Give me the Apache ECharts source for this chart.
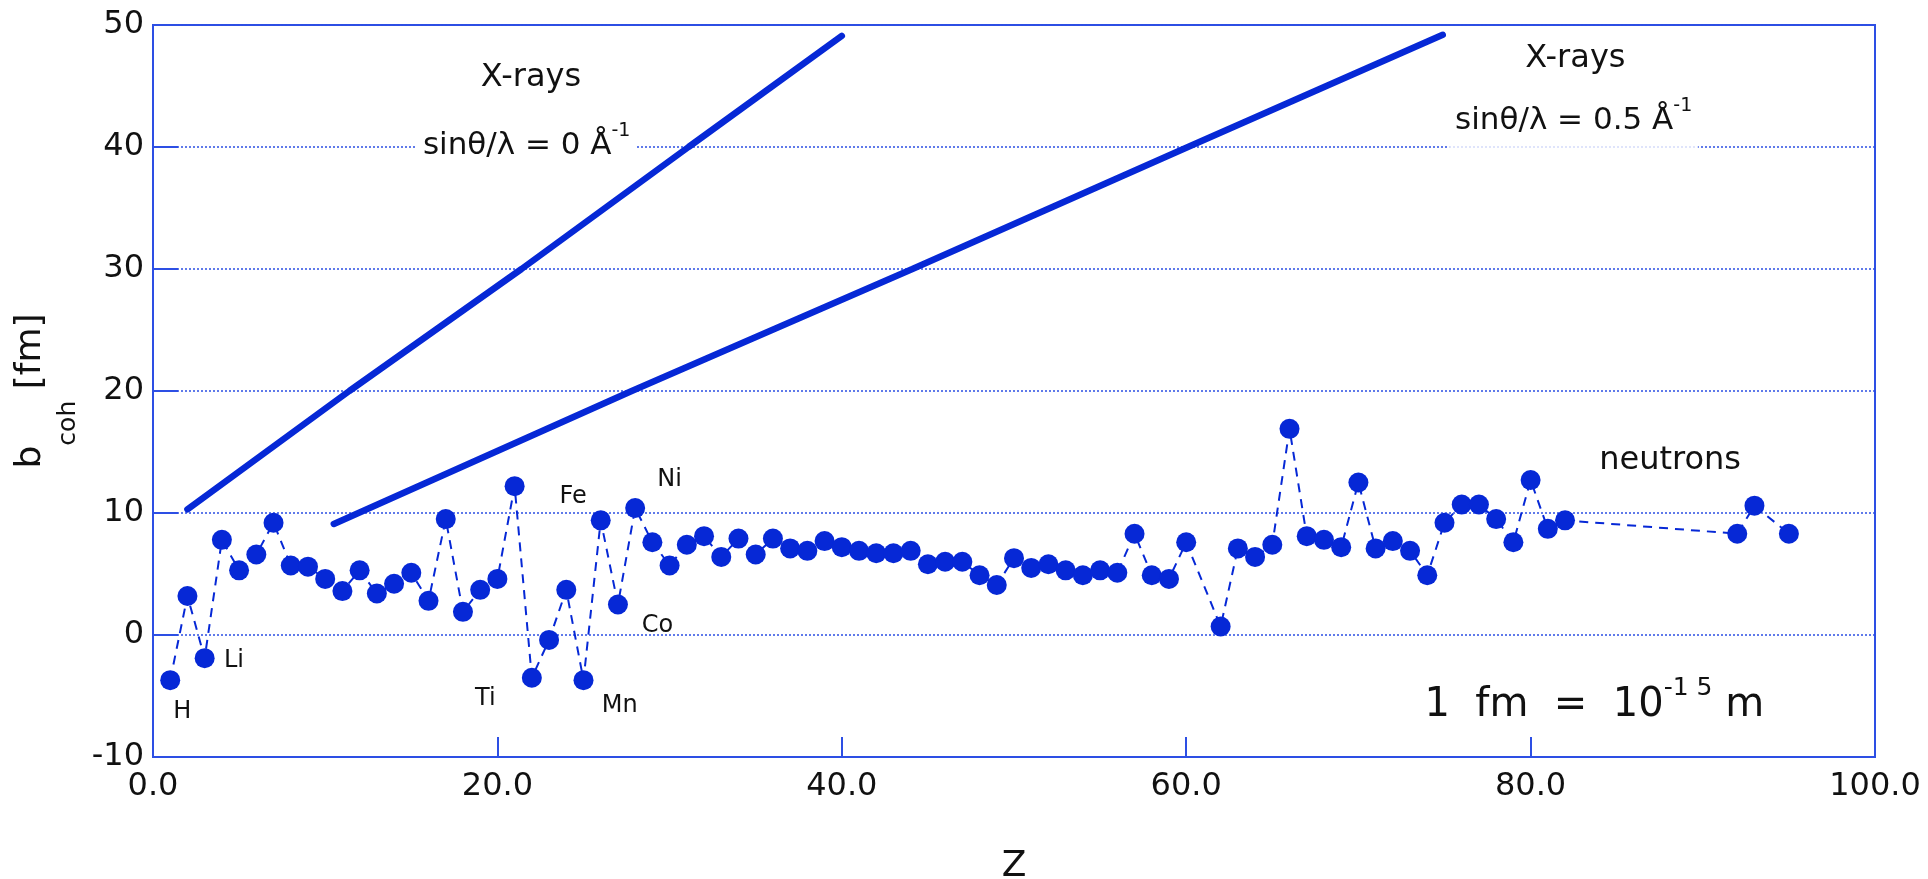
<!DOCTYPE html>
<html>
<head>
<meta charset="utf-8">
<script src="https://cdn.jsdelivr.net/npm/echarts@6/dist/echarts.min.js"></script>
<style>
  html, body { margin: 0; padding: 0; background: #fff; }
  #chart { width: 1928px; height: 879px; }
</style>
</head>
<body>
<div id="chart"></div>
<script>
// neutron coherent scattering lengths (Z 61, 83-91, 94 are not plotted)
const zValues = [
  1, 2, 3, 4, 5, 6, 7, 8, 9, 10,
  11, 12, 13, 14, 15, 16, 17, 18, 19, 20,
  21, 22, 23, 24, 25, 26, 27, 28, 29, 30,
  31, 32, 33, 34, 35, 36, 37, 38, 39, 40,
  41, 42, 43, 44, 45, 46, 47, 48, 49, 50,
  51, 52, 53, 54, 55, 56, 57, 58, 59, 60,
  62, 63, 64, 65, 66, 67, 68, 69, 70,
  71, 72, 73, 74, 75, 76, 77, 78, 79, 80,
  81, 82, 92, 93, 95
];
const bValues = [
  -3.7, 3.2, -1.9, 7.8, 5.3, 6.6, 9.2, 5.7, 5.6, 4.6,
  3.6, 5.3, 3.4, 4.2, 5.1, 2.8, 9.5, 1.9, 3.7, 4.6,
  12.2, -3.5, -0.4, 3.7, -3.7, 9.4, 2.5, 10.4, 7.6, 5.7,
  7.4, 8.1, 6.4, 7.9, 6.6, 7.9, 7.1, 6.9, 7.7, 7.2,
  6.9, 6.7, 6.7, 6.9, 5.8, 6.0, 6.0, 4.9, 4.1, 6.3,
  5.5, 5.8, 5.3, 4.9, 5.3, 5.1, 8.3, 4.9, 4.6, 7.6,
  0.7, 7.1, 6.4, 7.4, 16.9, 8.1, 7.8, 7.2, 12.5,
  7.1, 7.7, 6.9, 4.9, 9.2, 10.7, 10.7, 9.5, 7.6, 12.7,
  8.7, 9.4, 8.3, 10.6, 8.3
];

// X-ray form factors (in fm) for the two sinθ/λ values
const xray0Z = [2, 11.4, 21.4, 31.1, 40];
const xray0B = [10.3, 20, 30, 40, 49.1];
const xray05Z = [10.5, 27.8, 44.1, 60.1, 74.9];
const xray05B = [9.1, 20, 30, 40, 49.2];

// element labels next to the points
const elementNames = ['H', 'Li', 'Ti', 'Mn', 'Fe', 'Co', 'Ni'];
const elementLabelZ = [1.7, 4.7, 19.3, 27.1, 24.4, 29.3, 30.0];
const elementLabelB = [-6.3, -2.1, -5.2, -5.8, 11.3, 0.75, 12.7];

const BLUE = '#0628d6';
const AXIS = '#2d4fe4';
const TEXT = '#111';
const NOTE = '#111';
const FONT = 'DejaVu Sans';

const chart = echarts.init(document.getElementById('chart'));

function pairs(xs, ys) {
  return xs.map(function (x, i) { return [x, ys[i]]; });
}

// one text item placed in data space
function note(z, b, text, style) {
  return {
    value: [z, b],
    label: Object.assign({
      show: true,
      position: 'inside',
      formatter: text,
      color: NOTE,
      opacity: 1,
      textBorderWidth: 0,
      fontFamily: FONT
    }, style)
  };
}

const supRich = {
  t: { fontSize: 31, fontFamily: FONT, color: NOTE, lineHeight: 40, verticalAlign: 'bottom' },
  sup: { fontSize: 19, fontFamily: FONT, color: NOTE, lineHeight: 19, verticalAlign: 'top' }
};
const fmRich = {
  t: { fontSize: 40, fontFamily: FONT, color: NOTE, lineHeight: 50, verticalAlign: 'bottom' },
  sup: { fontSize: 25, fontFamily: FONT, color: NOTE, lineHeight: 25, verticalAlign: 'top' }
};

const notes = elementNames.map(function (n, i) {
  return note(elementLabelZ[i], elementLabelB[i], n, { fontSize: 24 });
});
notes.push(note(88.1, 14.3, 'neutrons', { fontSize: 32 }));
notes.push(note(21.95, 45.7, 'X-rays', { fontSize: 32 }));
notes.push(note(82.6, 47.2, 'X-rays', { fontSize: 32 }));
notes.push(note(21.7, 40.4, '{t|sinθ/λ = 0 Å}{sup|-1}', {
  rich: supRich, backgroundColor: '#fff', padding: [2, 6, 4, 6]
}));
notes.push(note(82.5, 42.0, '{t|sinθ/λ = 0.5 Å}{sup|-1}', {
  rich: supRich, backgroundColor: 'rgba(255,255,255,0.8)', padding: [2, 6, 14, 6]
}));
notes.push(note(83.7, -5.4, '{t|1  fm  =  10}{sup|-1 5}{t| m}', { rich: fmRich }));

const option = {
  backgroundColor: '#fff',
  animation: false,
  grid: {
    left: 153, right: 53, top: 25, bottom: 122,
    outerBoundsMode: 'none',
    show: true, borderColor: AXIS, borderWidth: 2
  },
  xAxis: {
    type: 'value', min: 0, max: 100, interval: 20,
    name: 'Z', nameLocation: 'middle', nameGap: 92,
    nameTextStyle: { fontSize: 36, color: TEXT, fontFamily: FONT },
    axisLine: { onZero: false, lineStyle: { color: AXIS, width: 2 } },
    axisTick: { inside: true, length: 20, lineStyle: { color: AXIS, width: 2 } },
    axisLabel: {
      fontSize: 32, margin: 14, color: TEXT, fontFamily: FONT,
      formatter: function (v) { return v.toFixed(1); }
    },
    splitLine: { show: false }
  },
  yAxis: {
    type: 'value', min: -10, max: 50, interval: 10,
    name: '{t|b}{sub|coh}{t| [fm]}', nameLocation: 'middle', nameRotate: 90, nameGap: 52,
    nameTextStyle: {
      rich: {
        t: { fontSize: 36, fontFamily: FONT, color: TEXT, lineHeight: 36, verticalAlign: 'top' },
        sub: { fontSize: 25, fontFamily: FONT, color: TEXT, lineHeight: 68, verticalAlign: 'bottom' }
      }
    },
    axisLine: { onZero: false, lineStyle: { color: AXIS, width: 2 } },
    axisTick: { inside: true, length: 25, lineStyle: { color: AXIS, width: 2 } },
    axisLabel: { fontSize: 32, margin: 9, color: TEXT, fontFamily: FONT },
    splitLine: { lineStyle: { color: AXIS, width: 1.5, type: [2, 2] } }
  },
  series: [
    {
      name: 'neutrons',
      type: 'line',
      data: pairs(zValues, bValues),
      symbol: 'circle',
      symbolSize: 20,
      itemStyle: { color: BLUE },
      lineStyle: { color: BLUE, width: 2, type: [9, 7] },
      z: 3
    },
    {
      name: 'X-rays 0',
      type: 'line',
      data: pairs(xray0Z, xray0B),
      symbol: 'none',
      lineStyle: { color: BLUE, width: 6.5, cap: 'round' },
      z: 4
    },
    {
      name: 'X-rays 0.5',
      type: 'line',
      data: pairs(xray05Z, xray05B),
      symbol: 'none',
      lineStyle: { color: BLUE, width: 6.5, cap: 'round' },
      z: 4
    },
    {
      name: 'notes',
      type: 'scatter',
      data: notes,
      symbolSize: 1,
      itemStyle: { color: 'rgba(0,0,0,0)', opacity: 1 },
      silent: true,
      z: 5
    }
  ]
};

chart.setOption(option);
</script>
</body>
</html>
